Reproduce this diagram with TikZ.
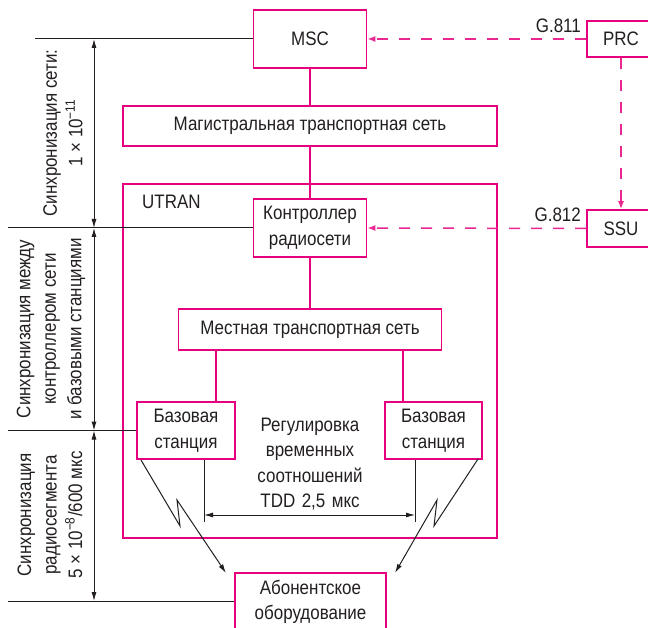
\documentclass[tikz,border=0pt]{standalone}
\usepackage{fontspec}
\setmainfont{Liberation Sans}[FakeStretch=0.87]
\usetikzlibrary{arrows.meta}
\definecolor{mag}{RGB}{230,0,126}
\definecolor{ink}{RGB}{35,31,32}
\newcommand{\fs}{\fontsize{19.5}{25.5}\selectfont}
\begin{document}
\begin{tikzpicture}[x=1pt,y=-1pt,
  box/.style={draw=mag, line width=1.6pt, align=center, inner sep=0pt, font=\fs, text=ink},
  magline/.style={draw=mag, line width=1.7pt},
  dashc/.style={draw=mag!85, line width=1.5pt, dash pattern=on 11pt off 11pt, -{Latex[length=8pt,width=6pt]}},
  blk/.style={draw=ink, line width=1pt},
  dimarr/.style={draw=ink, line width=1pt, {Latex[length=9pt,width=5pt]}-{Latex[length=9pt,width=5pt]}},
  lbl/.style={font=\fs, text=ink, align=center, inner sep=0pt},
  rlbl/.style={font=\fs, text=ink, align=center, inner sep=0pt, rotate=90}
]
\useasboundingbox (0,0) rectangle (648,628);
\fill[white] (0,0) rectangle (648,628);

% boxes
\node[box, minimum width=113pt, minimum height=58pt] (msc) at (310,39) {MSC};
\node[box, minimum width=374pt, minimum height=40pt] (magn) at (310,126) {Магистральная транспортная сеть};
\node[box, minimum width=374pt, minimum height=354pt] (utran) at (310,361) {};
\node[lbl, anchor=west] (utranl) at (142,202) {UTRAN};
\node[box, minimum width=113pt, minimum height=58pt, fill=white] (rnc) at (310,228) {Контроллер\\радиосети};
\node[box, minimum width=263pt, minimum height=41pt] (loc) at (310,329.5) {Местная транспортная сеть};
\node[box, minimum width=98pt, minimum height=57pt] (bsl) at (186,430.5) {Базовая\\станция};
\node[box, minimum width=97pt, minimum height=57pt] (bsr) at (433.5,430.5) {Базовая\\станция};
\node[box, minimum width=151pt, minimum height=58pt] (sub) at (310.5,602) {Абонентское\\оборудование};
\node[box, minimum width=68pt, minimum height=36pt] (prc) at (621,39) {PRC};
\node[box, minimum width=68pt, minimum height=37pt] (ssu) at (621,228.5) {SSU};

\node[lbl, anchor=south east] (g811) at (581,33) {G.811};
\node[lbl, anchor=south east] (g812) at (581,222) {G.812};

% magenta solid links
\draw[magline] (msc.south) -- (magn.north);
\draw[magline] (magn.south) -- (rnc.north);
\draw[magline] (rnc.south) -- (loc.north);
\coordinate (xl) at (216,0);
\coordinate (xr) at (403,0);
\draw[magline] (loc.south -| xl) -- (bsl.north -| xl);
\draw[magline] (loc.south -| xr) -- (bsr.north -| xr);

% dashed sync links
\draw[dashc] (prc.west) -- (msc.east);
\draw[dashc] (prc.south) -- (ssu.north);
\draw[dashc] (ssu.west) -- (rnc.east);

% left level lines
\coordinate (h1) at (35,39);
\coordinate (h2) at (8,228);
\coordinate (h3) at (8,430.5);
\coordinate (h4) at (8,601);
\draw[blk] (h1) -- (msc.west);
\draw[blk] (h2) -- (rnc.west);
\draw[blk] (h3) -- (bsl.west);
\draw[blk] (h4) -- (sub.west |- h4);

% dimension arrows
\coordinate (d1) at (94,39);
\coordinate (d2) at (94,228);
\coordinate (d3) at (94,430.5);
\coordinate (d4) at (94,601);
\draw[dimarr] (d1) -- (d2);
\draw[dimarr] (d2) -- (d3);
\draw[dimarr] (d3) -- (d4);

\node[rlbl] (s1) at (63,133) {Синхронизация сети:\\1 × 10\textsuperscript{−11}};
\node[rlbl] (s2) at (51,329) {Синхронизация между\\контроллером сети\\и базовыми станциями};
\node[rlbl] (s3) at (50,515) {Синхронизация\\радиосегмента\\5 × 10\textsuperscript{−8}/600 мкс};

% TDD dimension
\coordinate (tl) at (204,522);
\coordinate (tr) at (415,522);
\coordinate (al) at (204,515);
\coordinate (ar) at (415,515);
\draw[blk] (bsl.south -| tl) -- (tl);
\draw[blk] (bsr.south -| tr) -- (tr);
\draw[dimarr] (al) -- (ar);
\node[lbl, text width=160pt] (tdd) at (310,464) {Регулировка\\временных\\соотношений\\TDD 2,5 мкс};

% radio links (lightning)
\coordinate (ls) at (141,460);
\coordinate (lz1) at (180,526);
\coordinate (lz2) at (177,500);
\coordinate (le) at (226,573);
\coordinate (rs) at (478,459);
\coordinate (rz1) at (434,526);
\coordinate (rz2) at (437,500);
\coordinate (re) at (395,573);
\draw[blk, -{Latex[length=9pt,width=5pt]}] (ls) -- (lz1) -- (lz2) -- (le);
\draw[blk, -{Latex[length=9pt,width=5pt]}] (rs) -- (rz1) -- (rz2) -- (re);
\end{tikzpicture}
\end{document}
